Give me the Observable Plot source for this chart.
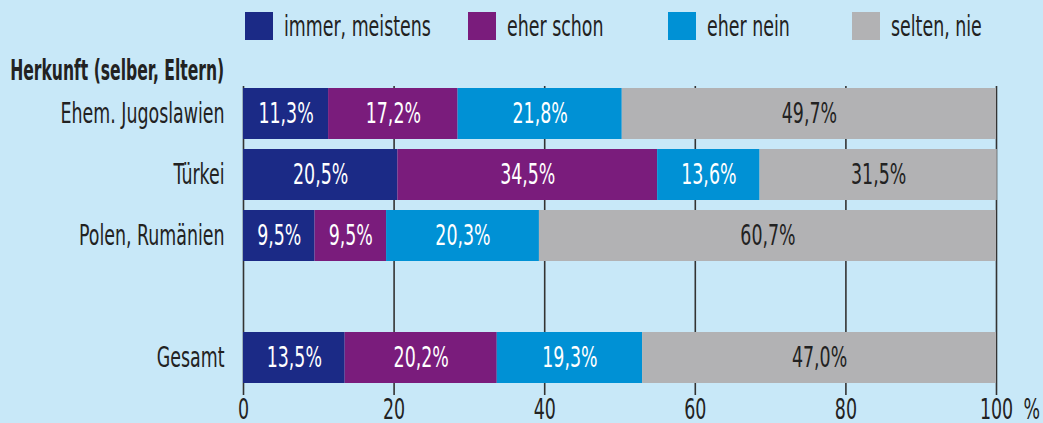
<!DOCTYPE html>
<html>
<head>
<meta charset="utf-8">
<script src="https://cdn.jsdelivr.net/npm/d3@7"></script>
<script src="https://cdn.jsdelivr.net/npm/@observablehq/plot@0.6"></script>
<style>
  html, body { margin: 0; padding: 0; background: #c8e8f8; }
  #wrap { position: relative; width: 1043px; height: 423px; background: #c8e8f8; overflow: hidden;
          font-family: "Liberation Sans Narrow", "DejaVu Sans Condensed", "Liberation Sans", sans-serif; color: #222; }
  #legend { position: absolute; top: 0; left: 0; width: 1043px; height: 50px; }
  .item { position: absolute; top: 12px; height: 28px; display: flex; align-items: center; }
  .sw { width: 28px; height: 28px; flex: none; }
  .lab { display: inline-block; margin-left: 11px; font-size: 29px; line-height: 28px; white-space: nowrap; transform-origin: left center; }
  .item:nth-child(1) { left: 245px; }
  .item:nth-child(2) { left: 468px; }
  .item:nth-child(3) { left: 668px; }
  .item:nth-child(4) { left: 852px; }
  #title { position: absolute; right: calc(1043px - 224px); top: 55px; font-size: 29px; font-weight: bold; line-height: 30px;
           white-space: nowrap; transform-origin: right center; }
  #chart { position: absolute; left: 0; top: 0; }
</style>
</head>
<body>
<div id="wrap">
  <div id="legend"></div>
  <div id="title">Herkunft (selber, Eltern)</div>
  <div id="chart"></div>
</div>
<script>
const categories = ["Ehem. Jugoslawien", "Türkei", "Polen, Rumänien", " ", "Gesamt"];
const series = ["immer, meistens", "eher schon", "eher nein", "selten, nie"];
const colors = ["#1b2a86", "#7a1c7c", "#0091d5", "#b2b2b4"];
const valuesJugoslawien = [11.3, 17.2, 21.8, 49.7];
const valuesTuerkei = [20.5, 34.5, 13.6, 31.5];
const valuesPolen = [9.5, 9.5, 20.3, 60.7];
const valuesGesamt = [13.5, 20.2, 19.3, 47.0];
const xTicks = [0, 20, 40, 60, 80, 100];

const rows = [
  ["Ehem. Jugoslawien", valuesJugoslawien],
  ["Türkei", valuesTuerkei],
  ["Polen, Rumänien", valuesPolen],
  ["Gesamt", valuesGesamt]
];
const data = rows.flatMap(([cat, vals]) => vals.map((v, i) => ({cat, series: series[i], value: v})));
const fmt = v => v.toFixed(1).replace(".", ",") + "%";
const last = series[series.length - 1];

// legend
const legend = document.getElementById("legend");
series.forEach((s, i) => {
  const it = document.createElement("div");
  it.className = "item";
  it.innerHTML = `<div class="sw" style="background:${colors[i]}"></div><span class="lab">${s}</span>`;
  legend.appendChild(it);
});

const fontFamily = getComputedStyle(document.getElementById("wrap")).fontFamily;

const svg = Plot.plot({
  width: 1043,
  height: 423,
  marginTop: 86,
  marginBottom: 37,
  marginLeft: 243,
  marginRight: 47,
  style: {background: "transparent", fontFamily, fontSize: "29px", color: "#222", overflow: "visible"},
  x: {domain: [0, 100]},
  y: {domain: categories, paddingInner: 0.161, paddingOuter: 0},
  color: {domain: series, range: colors},
  marks: [
    Plot.ruleX(xTicks, {stroke: "#333", strokeWidth: 1.6}),
    Plot.barX(data, Plot.stackX({x: "value", y: "cat", z: "series", fill: "series", inset: 0})),
    Plot.text(data, Plot.stackX({x: "value", y: "cat", z: "series",
      text: d => d.series === last ? null : fmt(d.value), fill: "white"})),
    Plot.text(data, Plot.stackX({x: "value", y: "cat", z: "series",
      text: d => d.series === last ? fmt(d.value) : null, fill: "#222"})),
    Plot.axisX(xTicks, {tickSize: 9, tickPadding: 3, label: null, stroke: "#333", strokeWidth: 1.6, fill: "#222"}),
    Plot.axisY({tickSize: 0, tickPadding: 19, label: null, fill: "#222"}),
    Plot.text(["%"], {x: () => 100, frameAnchor: "bottom", lineAnchor: "top", textAnchor: "start", dx: 27, dy: 12, text: d => d, fill: "#222"})
  ]
});
document.getElementById("chart").appendChild(svg);

// condense the text horizontally to mimic the condensed typeface
let s = 1;
const ref = [...svg.querySelectorAll("text")].find(t => t.textContent === "Ehem. Jugoslawien");
if (ref) { const w = ref.getComputedTextLength(); if (w > 0) s = 164 / w; }
for (const t of svg.querySelectorAll("text")) {
  const x = t.getAttribute("x");
  let tr = t.getAttribute("transform") || "";
  if (x != null && !isNaN(+x)) {
    tr += ` translate(${+x},0)`;
    t.removeAttribute("x");
  }
  t.setAttribute("transform", tr + ` scale(${s},1)`);
}
for (const l of document.querySelectorAll(".lab")) l.style.transform = `scaleX(${s})`;
const title = document.getElementById("title");
const tw = title.getBoundingClientRect().width;
if (tw > 0) title.style.transform = `scaleX(${214 / tw})`;
</script>
</body>
</html>
